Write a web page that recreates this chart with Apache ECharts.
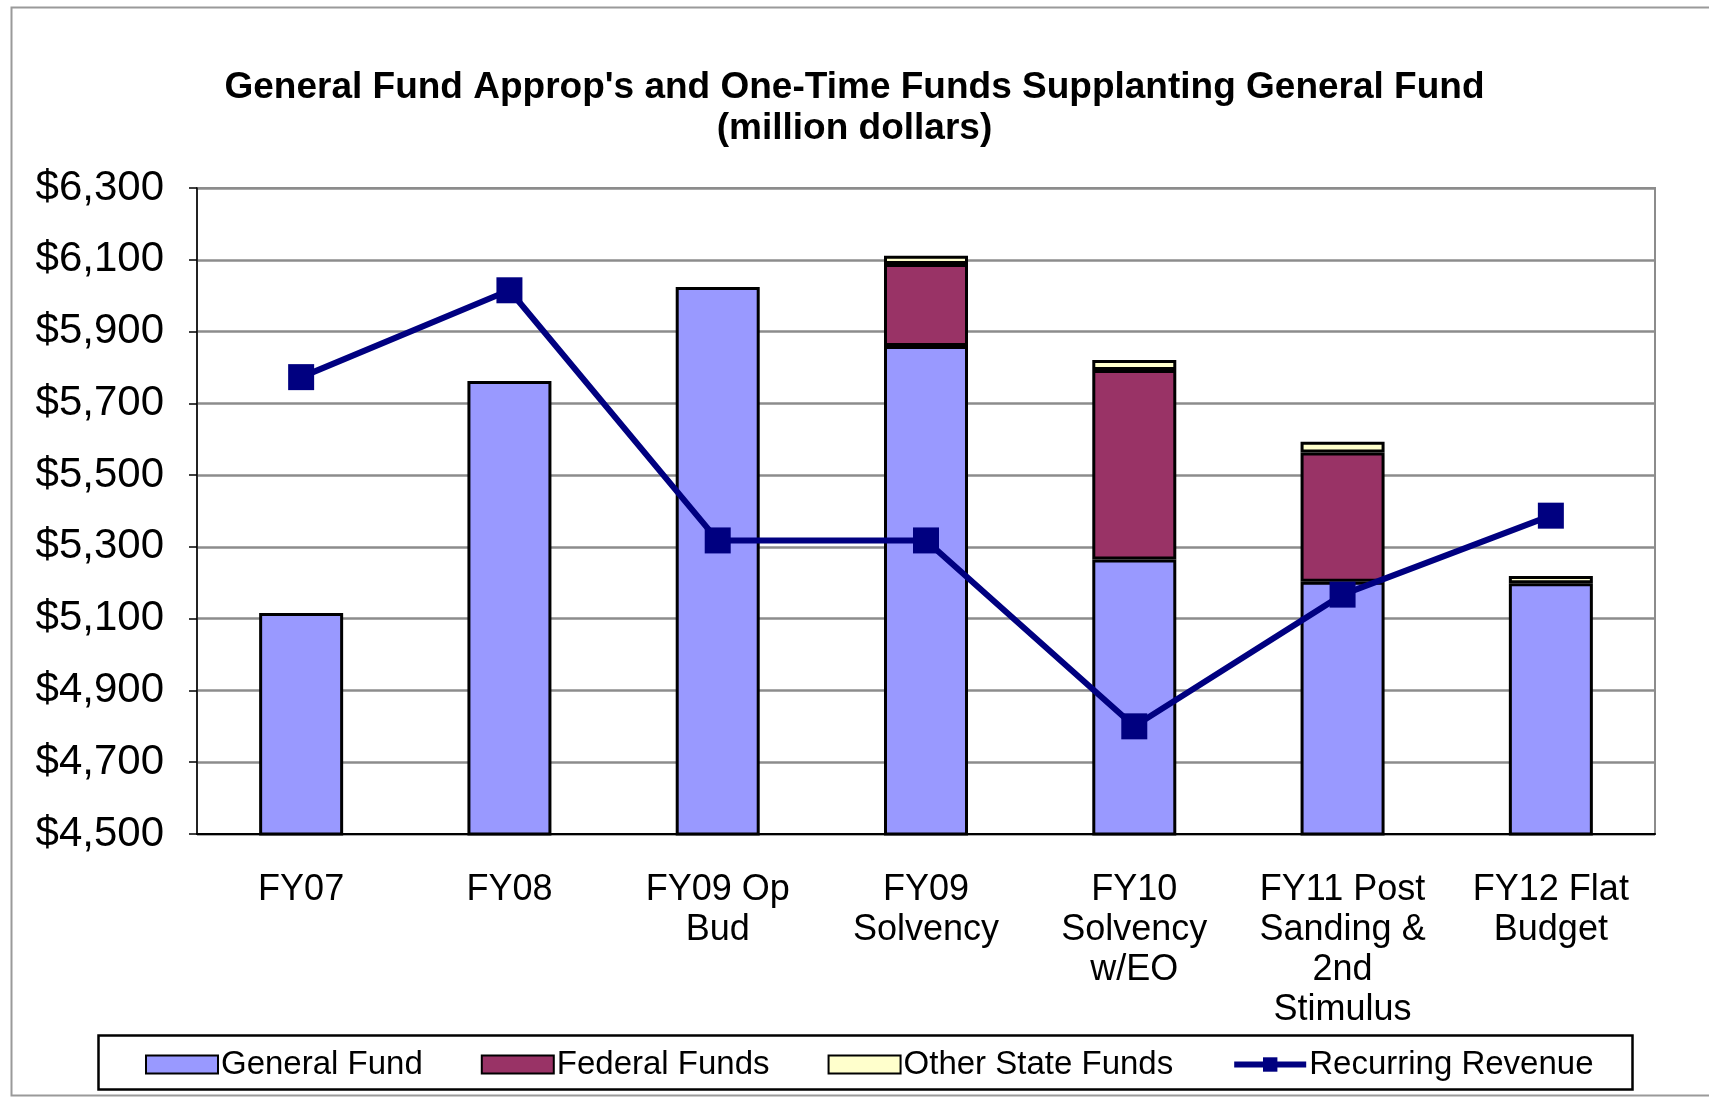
<!DOCTYPE html>
<html>
<head>
<meta charset="utf-8">
<script src="https://cdn.jsdelivr.net/npm/echarts@6/dist/echarts.min.js"></script>
<style>
  html, body { margin: 0; padding: 0; background: #fff; }
  #chart { width: 1709px; height: 1097px; }
</style>
</head>
<body>
<div id="chart"></div>
<script>
// categories and values (million dollars)
var categories = ['FY07', 'FY08', 'FY09 Op\nBud', 'FY09\nSolvency', 'FY10\nSolvency\nw/EO', 'FY11 Post\nSanding &\n2nd\nStimulus', 'FY12 Flat\nBudget'];
var generalFund = [5116, 5762, 6024, 5860, 5265, 5203, 5199];
var federalFunds = [0, 0, 0, 228, 528, 360, 0];
var otherStateFunds = [0, 0, 0, 23, 28, 30, 20];
var recurringRevenue = [5773, 6015, 5318, 5318, 4800, 5167, 5387];
var yTicks = [4500, 6300, 200]; // min, max, step

var font = 'Liberation Sans, Arial, sans-serif';

var chart = echarts.init(document.getElementById('chart'));

function fmtMoney(v) {
	return '$' + v.toString().replace(/\B(?=(\d{3})+(?!\d))/g, ',');
}

// zero means nothing drawn for that segment
function noZero(arr) {
	return arr.map(function (v) { return v === 0 ? null : v; });
}

var barBorder = { borderColor: '#000', borderWidth: 3 };
var iconBorder = { borderColor: '#000', borderWidth: 2 };

var option = {
	animation: false,
	backgroundColor: '#fff',
	title: {
		text: "General Fund Approp's and One-Time Funds Supplanting General Fund\n(million dollars)",
		left: 'center',
		top: 62,
		padding: [5, 5, 5, 33],
		textStyle: { fontFamily: font, fontSize: 37, fontWeight: 'bold', color: '#000', lineHeight: 41 }
	},
	grid: { left: 197, right: 54, top: 188, bottom: 263, show: true, borderColor: '#8c8c8c', borderWidth: 2 },
	legend: {
		left: 140,
		top: 1043,
		itemWidth: 72,
		itemHeight: 18,
		itemGap: 58,
		textStyle: { fontFamily: font, fontSize: 33, color: '#000', padding: [0, 0, 0, -2] },
		data: [
			{ name: 'General Fund', icon: 'rect', itemStyle: iconBorder },
			{ name: 'Federal Funds', icon: 'rect', itemStyle: iconBorder },
			{ name: 'Other State Funds', icon: 'rect', itemStyle: iconBorder },
			{ name: 'Recurring Revenue', lineStyle: { width: 6 } }
		]
	},
	xAxis: {
		type: 'category',
		data: categories,
		axisLine: { lineStyle: { color: '#000', width: 2 } },
		axisTick: { alignWithLabel: false, length: 10, lineStyle: { color: '#000', width: 2 } },
		axisLabel: { fontFamily: font, fontSize: 36, color: '#000', lineHeight: 40, margin: 36, interval: 0 }
	},
	yAxis: {
		type: 'value',
		min: yTicks[0],
		max: yTicks[1],
		interval: yTicks[2],
		axisLine: { show: true, lineStyle: { color: '#000', width: 1.5 } },
		axisTick: { show: true, length: 8, lineStyle: { color: '#000', width: 1.5 } },
		splitLine: { lineStyle: { color: '#8c8c8c', width: 2.5 } },
		axisLabel: { fontFamily: font, fontSize: 42, color: '#000', margin: 33, formatter: fmtMoney }
	},
	series: [
		{
			name: 'General Fund', type: 'bar', stack: 'f', barWidth: 84,
			itemStyle: Object.assign({ color: '#9999ff' }, barBorder),
			data: generalFund
		},
		{
			name: 'Federal Funds', type: 'bar', stack: 'f', barWidth: 84,
			itemStyle: Object.assign({ color: '#993366' }, barBorder),
			data: noZero(federalFunds)
		},
		{
			name: 'Other State Funds', type: 'bar', stack: 'f', barWidth: 84,
			itemStyle: Object.assign({ color: '#ffffcc' }, barBorder),
			data: noZero(otherStateFunds)
		},
		{
			name: 'Recurring Revenue', type: 'line', z: 5,
			symbol: 'rect', symbolSize: 26,
			lineStyle: { color: '#000080', width: 6 },
			itemStyle: { color: '#000080' },
			data: recurringRevenue
		}
	],
	graphic: [
		{ type: 'rect', left: 9, top: 5, shape: { width: 1700, height: 1088 }, style: { fill: null, stroke: '#9a9a9a', lineWidth: 2 }, silent: true },
		{ type: 'rect', left: 96, top: 1033, shape: { width: 1534, height: 54 }, style: { fill: null, stroke: '#000', lineWidth: 2.5 }, silent: true }
	]
};

chart.setOption(option);
</script>
</body>
</html>
